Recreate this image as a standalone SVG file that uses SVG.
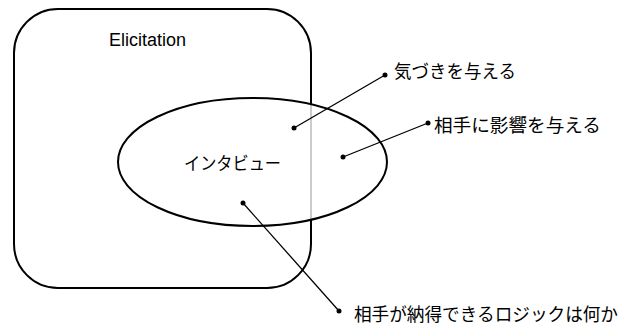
<svg xmlns="http://www.w3.org/2000/svg" width="624" height="329" viewBox="0 0 624 329">
<style>
.jp{font-family:"Noto Sans CJK JP","Noto Sans CJK SC",sans-serif;font-size:18px;fill:#000}
.en{font-family:"Liberation Sans",Arial,sans-serif;font-size:18px;fill:#000}
.ln{stroke:#000;stroke-width:1.3;fill:none}
.dot{fill:#000}
</style>
<rect width="624" height="329" fill="#fff"/>
<g id="elicitation">
<rect x="14" y="9" width="297" height="279" rx="44" ry="44" fill="none" stroke="#000" stroke-width="2"/>
<text class="en" x="109" y="46">Elicitation</text>
</g>
<g id="interview">
<ellipse cx="252.5" cy="162" rx="134.5" ry="64" fill="#fff" fill-opacity="0.8" stroke="#000" stroke-width="2"/>
<text class="jp" x="184" y="169.5" textLength="97" lengthAdjust="spacingAndGlyphs">インタビュー</text>
</g>
<g id="connectors">
<line class="ln" x1="294" y1="128" x2="385" y2="75"/>
<circle class="dot" cx="294" cy="128" r="2.5"/>
<circle class="dot" cx="385" cy="75" r="2.5"/>
<line class="ln" x1="343" y1="157" x2="428" y2="123"/>
<circle class="dot" cx="343" cy="157" r="2.5"/>
<circle class="dot" cx="428" cy="123" r="2.5"/>
<line class="ln" x1="243" y1="203" x2="339" y2="311"/>
<circle class="dot" cx="243" cy="203" r="2.5"/>
<circle class="dot" cx="339" cy="311" r="2.5"/>
</g>
<g id="label1"><text class="jp" x="394" y="77.5" textLength="122" lengthAdjust="spacingAndGlyphs">気づきを与える</text></g>
<g id="label2"><text class="jp" x="434" y="131.5" textLength="167" lengthAdjust="spacingAndGlyphs">相手に影響を与える</text></g>
<g id="label3"><text class="jp" x="354" y="320.5" textLength="264" lengthAdjust="spacingAndGlyphs">相手が納得できるロジックは何か</text></g>
</svg>
